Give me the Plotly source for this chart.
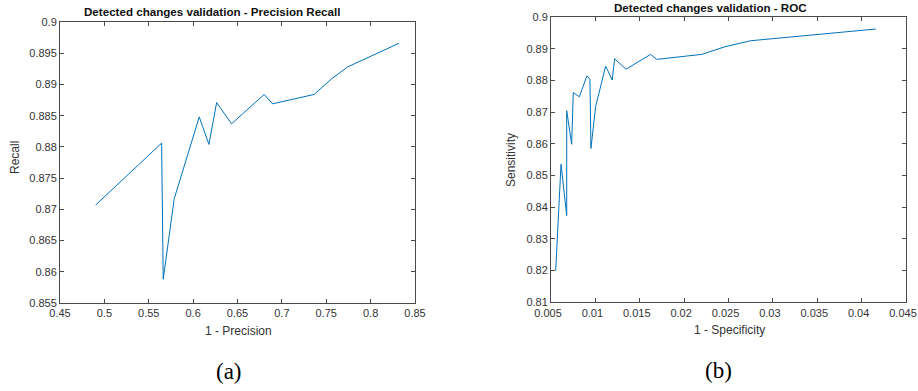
import plotly.graph_objects as go

# Precision-recall curve: 1 - precision vs. recall
pr_fpr = [0.4902, 0.5645, 0.5663, 0.5787, 0.6069, 0.6178, 0.6265, 0.6433,
          0.6801, 0.6895, 0.7364, 0.7560, 0.7740, 0.8321]
pr_recall = [0.8707, 0.8806, 0.8588, 0.8717, 0.8848, 0.8804, 0.8871, 0.8837,
             0.8884, 0.8869, 0.8884, 0.8909, 0.8928, 0.8966]

# ROC curve: 1 - specificity vs. sensitivity
roc_fpr = [0.00553, 0.00613, 0.00677, 0.00677, 0.00733, 0.00751, 0.00819,
           0.00905, 0.00939, 0.00950, 0.01003, 0.01116, 0.01190, 0.01217,
           0.01345, 0.01623, 0.01690, 0.02200, 0.02460, 0.02752, 0.04160]
roc_sens = [0.8200, 0.8536, 0.8374, 0.8705, 0.8599, 0.8762, 0.8749,
            0.8815, 0.8804, 0.8586, 0.8718, 0.8846, 0.8802, 0.8869,
            0.8836, 0.8883, 0.8867, 0.8883, 0.8907, 0.8926, 0.8963]

pr_xticks = [0.45, 0.5, 0.55, 0.6, 0.65, 0.7, 0.75, 0.8, 0.85]
pr_xtick_text = ["0.45", "0.5", "0.55", "0.6", "0.65", "0.7", "0.75", "0.8", "0.85"]
pr_yticks = [0.855, 0.86, 0.865, 0.87, 0.875, 0.88, 0.885, 0.89, 0.895, 0.9]
pr_ytick_text = ["0.855", "0.86", "0.865", "0.87", "0.875", "0.88", "0.885", "0.89", "0.895", "0.9"]

roc_xticks = [0.005, 0.01, 0.015, 0.02, 0.025, 0.03, 0.035, 0.04, 0.045]
roc_xtick_text = ["0.005", "0.01", "0.015", "0.02", "0.025", "0.03", "0.035", "0.04", "0.045"]
roc_yticks = [0.81, 0.82, 0.83, 0.84, 0.85, 0.86, 0.87, 0.88, 0.89, 0.9]
roc_ytick_text = ["0.81", "0.82", "0.83", "0.84", "0.85", "0.86", "0.87", "0.88", "0.89", "0.9"]

W, H = 918, 391
LINE = "#0072BD"
AX = "#4a4a4a"
TXT = "#333333"
SANS = "Liberation Sans, Arial, sans-serif"
SERIF = "Liberation Serif, DejaVu Serif, serif"

fig = go.Figure()
fig.add_trace(go.Scatter(x=pr_fpr, y=pr_recall, mode="lines",
                         line=dict(color=LINE, width=1), xaxis="x", yaxis="y",
                         showlegend=False, hoverinfo="x+y"))
fig.add_trace(go.Scatter(x=roc_fpr, y=roc_sens, mode="lines",
                         line=dict(color=LINE, width=1), xaxis="x2", yaxis="y2",
                         showlegend=False, hoverinfo="x+y"))


def px_x(p):
    return p / W


def px_y(p):
    return 1 - p / H


def axis_style(vals, text, rng, domain, anchor, shift=0):
    return dict(
        range=rng, domain=domain, anchor=anchor, automargin=False,
        tickmode="array", tickvals=vals, ticktext=text,
        ticklabeloverflow="allow", ticklabelshift=shift,
        showgrid=False, zeroline=False,
        showline=True, linecolor=AX, linewidth=1, mirror="ticks",
        ticks="inside", ticklen=4, tickcolor=AX, tickwidth=1,
        tickfont=dict(family=SANS, size=11, color=TXT),
    )


fig.update_layout(
    width=W, height=H,
    margin=dict(l=0, r=0, t=0, b=0, autoexpand=False),
    paper_bgcolor="white", plot_bgcolor="white",
    xaxis=axis_style(pr_xticks, pr_xtick_text, [0.45, 0.85],
                     [px_x(60), px_x(415)], "y"),
    yaxis=axis_style(pr_yticks, pr_ytick_text, [0.855, 0.9],
                     [px_y(303), px_y(22)], "x"),
    xaxis2=axis_style(roc_xticks, roc_xtick_text, [0.005, 0.045],
                      [px_x(551), px_x(906)], "y2", shift=-3),
    yaxis2=axis_style(roc_yticks, roc_ytick_text, [0.81, 0.9],
                      [px_y(302.3), px_y(17.3)], "x2"),
)


def label(text, x, y, size, family=SANS, bold=False, angle=0, color=TXT):
    fig.add_annotation(
        text=f"<b>{text}</b>" if bold else text,
        x=px_x(x), y=px_y(y), xref="paper", yref="paper",
        xanchor="center", yanchor="middle", showarrow=False,
        textangle=angle, font=dict(family=family, size=size, color=color),
    )


label("Detected changes validation - Precision Recall", 212, 12, 11.6, bold=True, color="#111111")
label("Detected changes validation - ROC", 710, 7.5, 11.6, bold=True, color="#111111")
label("1 - Precision", 238, 331, 12)
label("1 - Specificity", 729, 330, 12)
label("Recall", 15, 158, 12, angle=-90)
label("Sensitivity", 511, 160, 12, angle=-90)
label("(a)", 229, 371, 23, family=SERIF, color="#000000")
label("(b)", 718, 370, 23, family=SERIF, color="#000000")

fig.write_html("out.html")
